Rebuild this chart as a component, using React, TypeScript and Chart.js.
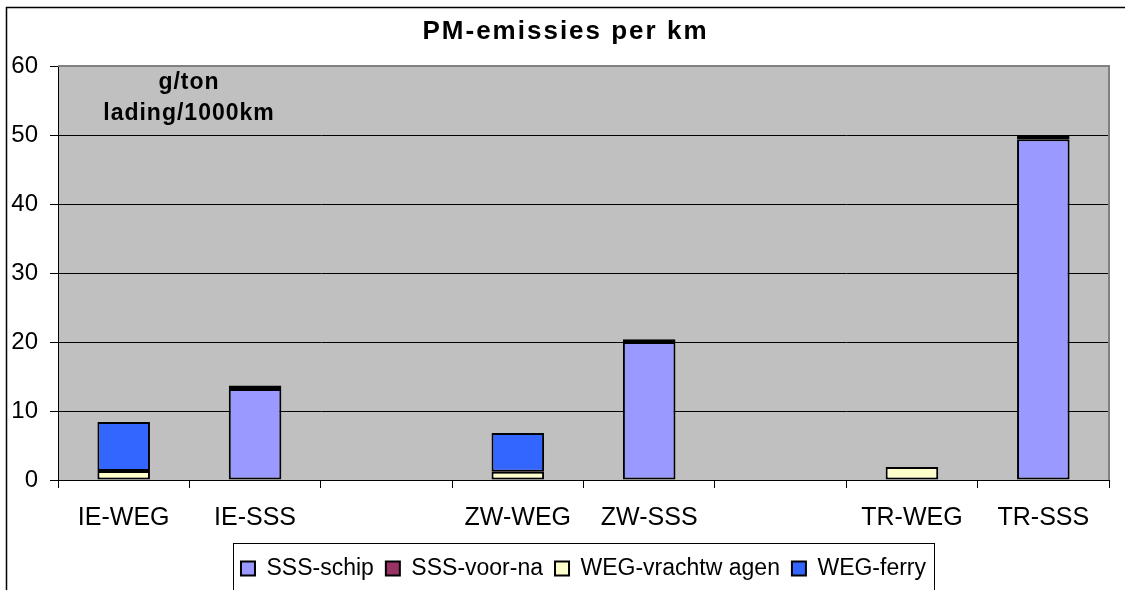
import React, { useEffect, useRef } from 'react';
import { Chart, registerables } from 'chart.js';

Chart.register(...registerables);

const titleText = 'PM-emissies per km';
const unitLines = ['g/ton', 'lading/1000km'];
const categories = ['IE-WEG', 'IE-SSS', '', 'ZW-WEG', 'ZW-SSS', '', 'TR-WEG', 'TR-SSS'];
const seriesNames = ['SSS-schip', 'SSS-voor-na', 'WEG-vrachtw agen', 'WEG-ferry'];
const sssSchip = [null, 13.2, null, null, 20.0, null, null, 49.4];
const sssVoorNa = [null, 0.5, null, null, 0.4, null, null, 0.5];
const wegVrachtwagen = [1.3, null, null, 1.2, null, null, 1.9, null];
const wegFerry = [7.1, null, null, 5.6, null, null, null, null];
const yTicks = [0, 10, 20, 30, 40, 50, 60];
const seriesColors = ['#9999FF', '#993366', '#FFFFCC', '#3366FF'];

const FONT = "'Liberation Sans', Arial, sans-serif";

export default function App() {
  const ref = useRef<HTMLCanvasElement>(null);

  useEffect(() => {
    const canvas = ref.current;
    if (!canvas) return;
    Chart.defaults.font.family = FONT;

    const framePlugin = {
      id: 'framePlugin',
      beforeDraw(chart: any) {
        const { ctx, chartArea: a } = chart;
        ctx.save();
        ctx.fillStyle = '#ffffff';
        ctx.fillRect(0, 0, chart.width, chart.height);
        ctx.fillStyle = '#C0C0C0';
        ctx.fillRect(a.left, a.top, a.right - a.left, a.bottom - a.top);
        ctx.restore();
      },
      beforeDatasetsDraw(chart: any) {
        const { ctx, chartArea: a } = chart;
        ctx.save();
        ctx.strokeStyle = '#808080';
        ctx.lineWidth = 2;
        ctx.beginPath();
        ctx.moveTo(a.left, a.top);
        ctx.lineTo(a.right, a.top);
        ctx.lineTo(a.right, a.bottom);
        ctx.stroke();
        ctx.restore();
      },
      afterDraw(chart: any) {
        const { ctx, chartArea: a } = chart;
        ctx.save();
        // outer frame
        ctx.strokeStyle = '#000000';
        ctx.lineWidth = 1.5;
        ctx.strokeRect(6.5, 7.5, chart.width + 20, chart.height + 20);
        // title
        ctx.fillStyle = '#000000';
        ctx.font = `bold 26px ${FONT}`;
        ctx.letterSpacing = '2px';
        ctx.textAlign = 'center';
        ctx.textBaseline = 'middle';
        ctx.fillText(titleText, chart.width / 2 + 3, 32);
        // unit annotation
        ctx.font = `bold 23px ${FONT}`;
        ctx.letterSpacing = '1px';
        const cx = a.left + 131;
        ctx.fillText(unitLines[0], cx, a.top + 17);
        ctx.fillText(unitLines[1], cx, a.top + 48);
        // legend frame
        const hb = chart.legend?.legendHitBoxes || [];
        if (hb.length) {
          let l = Infinity, r = -Infinity;
          hb.forEach((h: any) => {
            l = Math.min(l, h.left);
            r = Math.max(r, h.left + h.width);
          });
          ctx.strokeStyle = '#000000';
          ctx.lineWidth = 1;
          ctx.strokeRect(Math.round(l - 8) + 0.5, Math.round(chart.legend.top) - 1.5, Math.round(r - l + 16), 80);
        }
        ctx.restore();
      },
    };

    const data = [sssSchip, sssVoorNa, wegVrachtwagen, wegFerry];

    const chart = new Chart(canvas, {
      type: 'bar',
      data: {
        labels: categories,
        datasets: data.map((d, i) => ({
          label: seriesNames[i],
          data: d,
          backgroundColor: seriesColors[i],
          borderColor: '#000000',
          borderWidth: 2,
          borderSkipped: false,
          categoryPercentage: 1,
          barPercentage: 0.4,
        })),
      },
      options: {
        responsive: false,
        animation: false,
        layout: { padding: { left: 8, right: 16, top: 66, bottom: 0 } },
        plugins: {
          title: { display: false },
          tooltip: { enabled: false },
          legend: {
            display: true,
            position: 'bottom',
            fullSize: false,
            labels: {
              boxWidth: 14,
              boxHeight: 14,
              padding: 12,
              color: '#000000',
              font: { size: 23, family: FONT },
            },
          },
        },
        scales: {
          x: {
            stacked: true,
            offset: true,
            grid: {
              display: true,
              offset: true,
              drawOnChartArea: false,
              drawTicks: true,
              tickLength: 8,
              color: '#000000',
            },
            border: { display: true, color: '#000000', width: 1 },
            ticks: {
              color: '#000000',
              font: { size: 25, family: FONT },
              padding: 15,
              maxRotation: 0,
              autoSkip: false,
            },
            afterFit(scale: any) {
              scale.height = 65;
            },
          },
          y: {
            stacked: true,
            min: 0,
            max: 60,
            afterBuildTicks(scale: any) {
              scale.ticks = yTicks.map((v) => ({ value: v }));
            },
            grid: {
              color: '#000000',
              lineWidth: 1,
              drawTicks: true,
              tickLength: 8,
              tickColor: '#000000',
            },
            border: { display: true, color: '#000000', width: 1 },
            ticks: {
              color: '#000000',
              font: { size: 24, family: FONT },
              padding: 12,
            },
            afterFit(scale: any) {
              scale.width = 50;
            },
          },
        },
      },
      plugins: [framePlugin],
    } as any);

    return () => chart.destroy();
  }, []);

  return (
    <div style={{ position: 'fixed', left: 0, top: 0, width: 1125, height: 590, background: '#fff' }}>
      <canvas ref={ref} width={1125} height={590} style={{ display: 'block', width: 1125, height: 590 }} />
    </div>
  );
}
